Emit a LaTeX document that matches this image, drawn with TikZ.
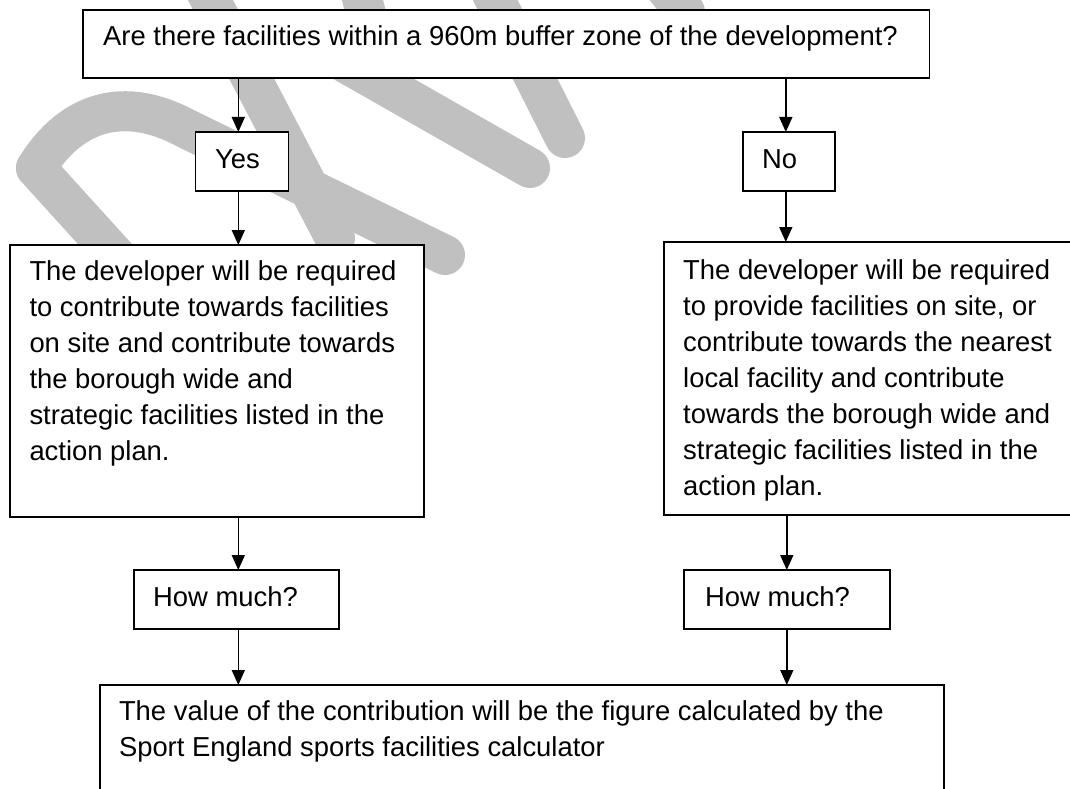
\documentclass[tikz,border=0pt]{standalone}
\usepackage{fontspec}
\setmainfont{Liberation Sans}
\usetikzlibrary{arrows.meta}
\definecolor{wm}{RGB}{192,192,192}
\begin{document}
\begin{tikzpicture}[x=1pt,y=-1pt,
  box/.style={draw=black, line width=1.8pt, fill=white, inner sep=0pt, outer sep=0pt, anchor=north west},
  txt/.style={anchor=base west, inner sep=0pt, font=\fontsize{27.4}{36}\selectfont},
  arr/.style={draw=black, line width=1.5pt, -{Triangle[width=13pt,length=15pt]}},
  wmk/.style={draw=wm, line width=40pt, line cap=round}]
\useasboundingbox (0,0) rectangle (1070,789);
\clip (0,0) rectangle (1070,789);
% watermark
\draw[wmk] (36,168) -- (210,360);
\draw[wmk] (36,168) .. controls (72,110) and (125,96) .. (185,128) -- (445,255);
\draw[wmk] (200,-20) -- (335,238);
\draw[wmk] (300,37) -- (530,168);
\draw[wmk] (480,-30) -- (565,138);
\draw[wmk] (355,-30) -- (370,30);
\draw[wmk] (655,-25) -- (685,12);
% boxes
\node[box, minimum width=846.9pt, minimum height=68pt] (top) at (82.6,10) {};
\node[box, minimum width=93pt, minimum height=59pt] (yes) at (195.5,132) {};
\node[box, minimum width=92.2pt, minimum height=59pt] (no) at (742.8,132) {};
\node[box, minimum width=414pt, minimum height=272pt] (left) at (9.6,245) {};
\node[box, minimum width=420pt, minimum height=273pt] (right) at (663.6,242) {};
\node[box, minimum width=205.6pt, minimum height=59pt] (hmL) at (133.6,570) {};
\node[box, minimum width=205.9pt, minimum height=59pt] (hmR) at (684.3,570) {};
\node[box, minimum width=844.4pt, minimum height=130pt] (bottom) at (99.9,685) {};
% texts
\node[txt] (tq) at (103,46) {Are there facilities within a 960m buffer zone of the development?};
\node[txt] (ty) at (215,168) {Yes};
\node[txt] (tn) at (762,168) {No};
\foreach \t [count=\i] in {{The developer will be required},{to contribute towards facilities},{on site and contribute towards},{the borough wide and},{strategic facilities listed in the},{action plan.}}
  \node[txt] (L\i) at (29.3,{280+36*(\i-1)}) {\t};
\foreach \t [count=\i] in {{The developer will be required},{to provide facilities on site, or},{contribute towards the nearest},{local facility and contribute},{towards the borough wide and},{strategic facilities listed in the},{action plan.}}
  \node[txt] (R\i) at (683,{279+36*(\i-1)}) {\t};
\node[txt] (thL) at (153,606) {How much?};
\node[txt] (thR) at (705,606) {How much?};
\node[txt] (B1) at (118.8,720) {The value of the contribution will be the figure calculated by the};
\node[txt] (B2) at (118.8,756) {Sport England sports facilities calculator};
% connectors
\coordinate (xl) at (238.3,0);
\coordinate (xr) at (785.8,0);
\coordinate (xr2) at (786.8,0);
\draw[arr] (top.south -| xl) -- (yes.north -| xl);
\draw[arr] (yes.south -| xl) -- (left.north -| xl);
\draw[arr] (left.south -| xl) -- (hmL.north -| xl);
\draw[arr] (hmL.south -| xl) -- (bottom.north -| xl);
\draw[arr] (top.south -| xr) -- (no.north -| xr);
\draw[arr] (no.south -| xr) -- (right.north -| xr);
\draw[arr] (right.south -| xr2) -- (hmR.north -| xr2);
\draw[arr] (hmR.south -| xr2) -- (bottom.north -| xr2);
\end{tikzpicture}
\end{document}
